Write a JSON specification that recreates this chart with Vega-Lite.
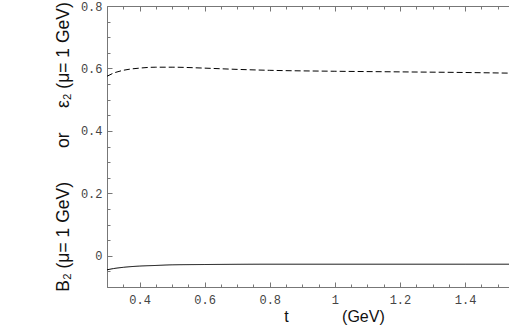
{
  "$schema": "https://vega.github.io/schema/vega-lite/v6.json",
  "width": 402,
  "height": 281,
  "autosize": {"type": "none"},
  "padding": {"left": 107, "top": 6, "right": 0, "bottom": 40},
  "background": "white",
  "config": {
    "view": {"stroke": "#777", "strokeWidth": 1},
    "axis": {"domainColor": "#777", "tickColor": "#777", "grid": false, "labelFont": "Liberation Mono", "labelFontSize": 12, "labelColor": "#444", "titleFont": "Liberation Sans", "titleFontWeight": "normal", "titleColor": "#111", "titleFontSize": 16}
  },
  "data": {
    "values": [
      {"t": 0.30, "v": -0.045, "s": "B2"},
      {"t": 0.32, "v": -0.041, "s": "B2"},
      {"t": 0.35, "v": -0.037, "s": "B2"},
      {"t": 0.40, "v": -0.033, "s": "B2"},
      {"t": 0.45, "v": -0.031, "s": "B2"},
      {"t": 0.50, "v": -0.029, "s": "B2"},
      {"t": 0.60, "v": -0.028, "s": "B2"},
      {"t": 0.80, "v": -0.027, "s": "B2"},
      {"t": 1.00, "v": -0.027, "s": "B2"},
      {"t": 1.20, "v": -0.027, "s": "B2"},
      {"t": 1.40, "v": -0.027, "s": "B2"},
      {"t": 1.535, "v": -0.027, "s": "B2"},
      {"t": 0.30, "v": 0.575, "s": "eps2"},
      {"t": 0.32, "v": 0.585, "s": "eps2"},
      {"t": 0.35, "v": 0.594, "s": "eps2"},
      {"t": 0.40, "v": 0.601, "s": "eps2"},
      {"t": 0.45, "v": 0.604, "s": "eps2"},
      {"t": 0.50, "v": 0.604, "s": "eps2"},
      {"t": 0.60, "v": 0.601, "s": "eps2"},
      {"t": 0.70, "v": 0.597, "s": "eps2"},
      {"t": 0.80, "v": 0.594, "s": "eps2"},
      {"t": 1.00, "v": 0.591, "s": "eps2"},
      {"t": 1.20, "v": 0.589, "s": "eps2"},
      {"t": 1.40, "v": 0.587, "s": "eps2"},
      {"t": 1.535, "v": 0.585, "s": "eps2"}
    ]
  },
  "layer": [
    {
      "mark": {"type": "line", "interpolate": "monotone", "color": "black", "strokeWidth": 1},
      "encoding": {
        "x": {"field": "t", "type": "quantitative", "scale": {"domain": [0.3, 1.535], "nice": false, "zero": false},
          "axis": {"orient": "bottom", "values": [0.4, 0.6, 0.8, 1, 1.2, 1.4], "format": "~g", "tickSize": -5, "labelPadding": 12, "labelFlush": false, "labelOverlap": false,
            "title": "t\u00a0\u00a0\u00a0\u00a0\u00a0\u00a0\u00a0\u00a0\u00a0\u00a0\u00a0\u00a0(GeV)", "titleX": 227, "titlePadding": 3}},
        "y": {"field": "v", "type": "quantitative", "scale": {"domain": [-0.1, 0.8], "nice": false, "zero": false},
          "axis": {"orient": "left", "values": [0, 0.2, 0.4, 0.6, 0.8], "format": "~g", "tickSize": -5, "labelPadding": 10, "labelFlush": false, "labelOverlap": false,
            "title": "B\u2082 (\u03bc= 1 GeV)\u00a0\u00a0\u00a0\u00a0\u00a0\u00a0\u00a0or\u00a0\u00a0\u00a0\u00a0\u00a0\u03b5\u2082 (\u03bc= 1 GeV)", "titlePadding": 8, "titleFontSize": 17.5}},
        "strokeDash": {"field": "s", "type": "nominal", "scale": {"domain": ["B2", "eps2"], "range": [[1, 0], [6, 3]]}, "legend": null}
      }
    },
    {
      "mark": {"type": "line", "opacity": 0},
      "encoding": {
        "x": {"field": "t", "type": "quantitative", "axis": {"orient": "bottom", "values": [0.35, 0.45, 0.5, 0.55, 0.65, 0.7, 0.75, 0.85, 0.9, 0.95, 1.05, 1.1, 1.15, 1.25, 1.3, 1.35, 1.45, 1.5], "labels": false, "tickSize": -3, "domain": false, "title": null}},
        "y": {"field": "v", "type": "quantitative", "axis": {"orient": "left", "values": [-0.05, 0.05, 0.1, 0.15, 0.25, 0.3, 0.35, 0.45, 0.5, 0.55, 0.65, 0.7, 0.75], "labels": false, "tickSize": -3, "domain": false, "title": null}},
        "detail": {"field": "s"}
      }
    },
    {
      "mark": {"type": "line", "opacity": 0},
      "encoding": {
        "x": {"field": "t", "type": "quantitative", "axis": {"orient": "top", "values": [0.4, 0.6, 0.8, 1, 1.2, 1.4], "labels": false, "tickSize": -5, "domain": false, "title": null}},
        "y": {"field": "v", "type": "quantitative", "axis": null},
        "detail": {"field": "s"}
      }
    },
    {
      "mark": {"type": "line", "opacity": 0},
      "encoding": {
        "x": {"field": "t", "type": "quantitative", "axis": {"orient": "top", "values": [0.35, 0.45, 0.5, 0.55, 0.65, 0.7, 0.75, 0.85, 0.9, 0.95, 1.05, 1.1, 1.15, 1.25, 1.3, 1.35, 1.45, 1.5], "labels": false, "tickSize": -3, "domain": false, "title": null}},
        "y": {"field": "v", "type": "quantitative", "axis": null},
        "detail": {"field": "s"}
      }
    }
  ],
  "resolve": {"axis": {"x": "independent", "y": "independent"}}
}
